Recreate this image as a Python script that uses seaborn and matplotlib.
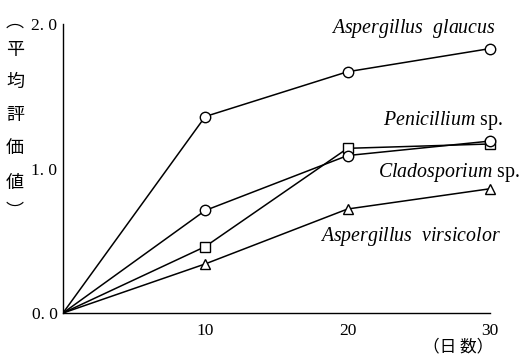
import matplotlib
matplotlib.use("Agg")
import matplotlib.pyplot as plt
import seaborn as sns
import pandas as pd

# Days of incubation and mean evaluation scores per fungus
days = [0, 10, 20, 30]
glaucus = [0.0, 1.36, 1.67, 1.83]
penicillium = [0.0, 0.46, 1.14, 1.17]
cladosporium = [0.0, 0.71, 1.09, 1.19]
virsicolor = [0.0, 0.34, 0.72, 0.86]

series_names = ["glaucus", "penicillium", "cladosporium", "virsicolor"]
series_values = [glaucus, penicillium, cladosporium, virsicolor]
series_markers = {"glaucus": "o", "penicillium": "s", "cladosporium": "o", "virsicolor": "^"}

x_ticks = [10, 20, 30]
y_ticks = [0.0, 1.0, 2.0]
y_tick_labels = ["0. 0", "1. 0", "2. 0"]

rows = []
for name, vals in zip(series_names, series_values):
    for d, v in zip(days, vals):
        rows.append({"day": d, "score": v, "species": name})
df = pd.DataFrame(rows)

sns.set_theme(style="white")
plt.rcParams["font.family"] = ["Liberation Serif", "DejaVu Sans"]
plt.rcParams["mathtext.fontset"] = "custom"
plt.rcParams["mathtext.it"] = "Liberation Serif:italic"
plt.rcParams["mathtext.rm"] = "Liberation Serif"

fig = plt.figure(figsize=(5.29, 3.59), dpi=100)
ax = fig.add_axes([0.119, 0.128, 0.807, 0.805])

for name in series_names:
    sub = df[df["species"] == name]
    mk = series_markers[name]
    # connecting line from the origin, then open markers at the sampled days
    sns.lineplot(data=sub, x="day", y="score", ax=ax, color="black",
                 linewidth=1.1, legend=False, zorder=2)
    pts = sub[sub["day"] > 0]
    ax.plot(pts["day"], pts["score"], linestyle="none", marker=mk,
            markersize=7.5 if mk != "s" else 7, markerfacecolor="white",
            markeredgecolor="black", markeredgewidth=1.0, zorder=3,
            clip_on=False)

ax.set_xlim(0, 30)
ax.set_ylim(0, 2.0)
ax.set_xticks(x_ticks)
ax.set_xticklabels([str(t) for t in x_ticks], fontsize=12.5)
ax.set_yticks(y_ticks)
ax.set_yticklabels(y_tick_labels, fontsize=12.5)
ax.tick_params(axis="both", direction="in", length=5, width=1.0, color="black",
               labelcolor="black")
ax.tick_params(axis="x", pad=7)
ax.tick_params(axis="y", pad=4)
ax.set_xlabel("")
ax.set_ylabel("")
for side in ["top", "right"]:
    ax.spines[side].set_visible(False)
for side in ["left", "bottom"]:
    ax.spines[side].set_color("black")
    ax.spines[side].set_linewidth(1.0)

# species labels
lab_kw = dict(fontsize=14.3, ha="center", va="center", clip_on=False, color="black")
ax.text(24.6, 1.97, r"$\it{Aspergillus}$  $\it{glaucus}$", **lab_kw)
ax.text(26.7, 1.335, r"$\it{Penicillium}$ sp.", **lab_kw)
ax.text(27.1, 0.975, r"$\it{Cladosporium}$ sp.", **lab_kw)
ax.text(24.4, 0.533, r"$\it{Aspergillus}$  $\it{virsicolor}$", **lab_kw)

# vertical y-axis caption
cjk = ["Noto Sans CJK JP", "DejaVu Sans"]
y_chars = ["︵", "平", "均", "評", "価", "値", "︶"]
y_pix = [22, 50, 82, 115, 148, 183, 212]
for ch, py in zip(y_chars, y_pix):
    fig.text(15 / 529, 1 - py / 359, ch, family=cjk, fontsize=13,
             ha="center", va="center", color="black")

# x-axis caption
fig.text(458 / 529, 1 - 347 / 359, "（日 数）", family=cjk, fontsize=12,
         ha="center", va="center", color="black")

fig.savefig("out.png", dpi=100)
